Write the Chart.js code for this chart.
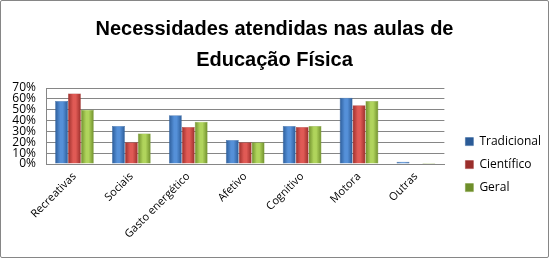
<!DOCTYPE html>
<html><head><meta charset="utf-8">
<script src="https://cdn.jsdelivr.net/npm/chart.js@4/dist/chart.umd.min.js"></script>
<style>
html,body{margin:0;padding:0;background:#fff;}
#wrap{position:absolute;left:0;top:0;width:547px;height:256px;border:1px solid #868686;border-radius:2px;}
canvas{display:block;}
</style></head>
<body>
<div id="wrap"><canvas id="c" width="547" height="256"></canvas></div>
<script>
const categories = ["Recreativas","Sociais","Gasto energético","Afetivo","Cognitivo","Motora","Outras"];
const tradicional = [58,35,45,22,35,61,2];
const cientifico = [65,20,34,20,34,54,0];
const geral = [50,28,39,20,35,58,1];
const seriesNames = ["Tradicional","Científico","Geral"];
const yTicks = [0,10,20,30,40,50,60,70];
const CAT_PCT = 0.68;

function grad(ctx, edge, mid){
  const c = ctx.chart;
  const xs = c.scales && c.scales.x;
  if(!c.chartArea || !xs || ctx.dataIndex === undefined) return mid;
  const catW = c.chartArea.width / categories.length;
  const barW = catW * CAT_PCT / 3;
  const cx = xs.getPixelForValue(ctx.dataIndex) + (ctx.datasetIndex - 1) * barW;
  if(!isFinite(cx)) return mid;
  const g = c.ctx.createLinearGradient(cx - barW/2, 0, cx + barW/2, 0);
  g.addColorStop(0, edge); g.addColorStop(0.4, mid); g.addColorStop(0.6, mid); g.addColorStop(1, edge);
  return g;
}
const ds = (label, data, edge, mid, border) => ({
  label, data,
  backgroundColor: ctx => grad(ctx, edge, mid),
  borderColor: border, borderWidth: 0.5,
  barPercentage: 1.0, categoryPercentage: CAT_PCT
});

const legendShift = {
  id: 'legendShift',
  afterInit(chart) {
    const lg = chart.legend;
    if (!lg) return;
    const fit = lg.fit.bind(lg);
    lg.fit = function(){ fit(); this.width += 5; };
    const draw = lg.draw.bind(lg);
    lg.draw = function(){ const c = this.ctx; c.save(); c.translate(10, 0); draw(); c.restore(); };
  }
};

new Chart(document.getElementById('c'), {
  type: 'bar',
  data: {
    labels: categories,
    datasets: [
      ds(seriesNames[0], tradicional, '#2b5b97', '#5590d8', '#33649f'),
      ds(seriesNames[1], cientifico, '#9a2e2b', '#e05a55', '#a33532'),
      ds(seriesNames[2], geral, '#6e8e2b', '#b0d45c', '#7a9a35')
    ]
  },
  plugins: [legendShift],
  options: {
    responsive: false, animation: false,
    layout: { padding: { left: 2, right: 2, top: 2, bottom: 0 } },
    plugins: {
      title: { display: true, text: ["Necessidades atendidas nas aulas de", "Educação Física"],
        font: { family: "'Liberation Sans', Arial, sans-serif", size: 20, weight: 'bold', lineHeight: 1.55 },
        color: '#000', padding: { top: 11, bottom: 12 } },
      legend: { position: 'right', align: 'center',
        title: { display: true, text: ' ', font: { size: 1 }, padding: { top: 0, bottom: 68 } },
        labels: { boxWidth: 8, boxHeight: 8, padding: 11, color: '#000',
          font: { family: "'Open Sans', sans-serif", size: 12 } } },
      tooltip: { enabled: false }
    },
    scales: {
      x: {
        grid: { display: false, drawTicks: false },
        border: { color: '#868686' },
        ticks: { color: '#000', maxRotation: 45, minRotation: 45, padding: 6,
          font: { family: "'Open Sans', sans-serif", size: 11 } },
        afterFit: s => { s.height = 93; }
      },
      y: {
        min: 0, max: 70,
        afterBuildTicks: s => { s.ticks = yTicks.map(v => ({ value: v })); },
        grid: { color: '#868686', drawTicks: false },
        border: { color: '#868686' },
        ticks: { color: '#000', padding: 10, autoSkip: false, callback: v => v + '%',
          font: { family: "'Open Sans', sans-serif", size: 12 } },
        afterFit: s => { s.width = 43; }
      }
    }
  }
});
</script>
</body></html>
